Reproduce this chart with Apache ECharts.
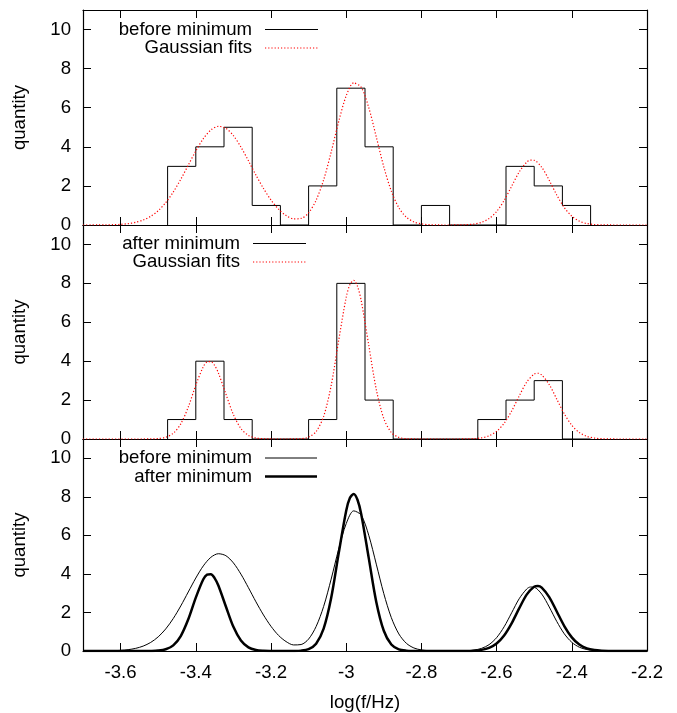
<!DOCTYPE html>
<html><head><meta charset="utf-8">
<script src="https://cdn.jsdelivr.net/npm/echarts@6/dist/echarts.min.js"></script>
<style>html,body{margin:0;padding:0;background:#fff}#c{width:677px;height:713px}</style>
</head><body><div id="c"></div>
<script>
// histogram bin edges (log f/Hz) and counts
const binEdges = [-3.475, -3.4, -3.325, -3.25, -3.175, -3.1, -3.025, -2.95, -2.875, -2.8, -2.725, -2.65, -2.575, -2.5, -2.425, -2.35];
const countsBefore = [3, 4, 5, 1, 0, 2, 7, 4, 0, 1, 0, 0, 3, 2, 1];
const countsAfter  = [1, 4, 1, 0, 0, 1, 8, 2, 0, 0, 0, 1, 2, 3, 0];

// Gaussian fit curves: [log(f/Hz), quantity]
const fitBefore = [[-3.70,0],[-3.66,0.003],[-3.64,0.006],[-3.62,0.015],[-3.60,0.033],[-3.58,0.069],[-3.56,0.137],[-3.54,0.254],[-3.52,0.444],[-3.50,0.734],[-3.48,1.145],[-3.46,1.684],[-3.44,2.338],[-3.42,3.063],[-3.40,3.786],[-3.38,4.416],[-3.36,4.860],[-3.34,5.047],[-3.32,4.945],[-3.30,4.572],[-3.28,3.989],[-3.26,3.284],[-3.24,2.551],[-3.22,1.870],[-3.20,1.280],[-3.18,0.810],[-3.16,0.490],[-3.14,0.315],[-3.12,0.335],[-3.10,0.620],[-3.08,1.270],[-3.06,2.310],[-3.04,3.730],[-3.02,5.289],[-3.00,6.608],[-2.98,7.271],[-2.96,7.043],[-2.94,6.005],[-2.92,4.507],[-2.90,2.977],[-2.88,1.732],[-2.86,0.886],[-2.84,0.399],[-2.82,0.158],[-2.80,0.055],[-2.78,0.017],[-2.76,0.005],[-2.74,0.001],[-2.72,0.001],[-2.70,0.004],[-2.68,0.015],[-2.66,0.049],[-2.64,0.136],[-2.62,0.329],[-2.60,0.691],[-2.58,1.256],[-2.56,1.982],[-2.54,2.711],[-2.52,3.216],[-2.51,3.320],[-2.50,3.309],[-2.48,2.953],[-2.46,2.285],[-2.44,1.534],[-2.42,0.893],[-2.40,0.451],[-2.38,0.197],[-2.36,0.075],[-2.34,0.025],[-2.32,0.007],[-2.30,0.002],[-2.26,0],[-2.20,0]];
const fitAfter = [[-3.70,0],[-3.58,0],[-3.56,0],[-3.54,0.001],[-3.52,0.004],[-3.50,0.021],[-3.48,0.088],[-3.46,0.293],[-3.44,0.778],[-3.42,1.644],[-3.40,2.770],[-3.38,3.720],[-3.37,3.959],[-3.36,3.982],[-3.35,3.784],[-3.34,3.397],[-3.32,2.311],[-3.30,1.253],[-3.28,0.541],[-3.26,0.186],[-3.24,0.051],[-3.22,0.011],[-3.20,0.002],[-3.18,0],[-3.16,0.001],[-3.14,0.003],[-3.12,0.019],[-3.10,0.098],[-3.08,0.381],[-3.06,1.159],[-3.04,2.746],[-3.02,5.067],[-3.00,7.281],[-2.99,7.946],[-2.98,8.150],[-2.97,7.848],[-2.96,7.101],[-2.94,4.820],[-2.92,2.548],[-2.90,1.049],[-2.88,0.336],[-2.86,0.084],[-2.84,0.016],[-2.82,0.002],[-2.80,0],[-2.72,0],[-2.70,0.001],[-2.68,0.005],[-2.66,0.018],[-2.64,0.059],[-2.62,0.163],[-2.60,0.391],[-2.58,0.807],[-2.56,1.437],[-2.54,2.208],[-2.52,2.924],[-2.50,3.340],[-2.49,3.379],[-2.48,3.291],[-2.46,2.797],[-2.44,2.050],[-2.42,1.296],[-2.40,0.707],[-2.38,0.332],[-2.36,0.135],[-2.34,0.047],[-2.32,0.014],[-2.30,0.004],[-2.28,0.001],[-2.26,0],[-2.20,0]];

function outline(counts) {
  const pts = [[binEdges[0], 0]];
  counts.forEach((c, i) => { pts.push([binEdges[i], c]); pts.push([binEdges[i + 1], c]); });
  pts.push([binEdges[binEdges.length - 1], 0]);
  return pts;
}

const FONT = 'Liberation Sans, Arial, sans-serif';
const FS = 18.6;
const AXW = 1.2;
const grids = [
  {left: 83, right: 30, top: 10, height: 215},
  {left: 83, right: 30, top: 225, height: 214},
  {left: 83, right: 30, top: 439, height: 214}
];
const xAxes = [], yAxes = [];
grids.forEach((g, i) => {
  ['bottom', 'top'].forEach(pos => {
    xAxes.push({
      gridIndex: i, type: 'value', position: pos, min: -3.7, max: -2.2,
      minInterval: 0.2, maxInterval: 0.2, splitNumber: 7,
      axisLine: {show: true, onZero: false, lineStyle: {color: '#000', width: AXW}},
      axisTick: {show: true, inside: true, length: 8, lineStyle: {color: '#000', width: 1}},
      axisLabel: {show: (i === 2 && pos === 'bottom'), showMinLabel: false, margin: 12, fontSize: FS, fontFamily: FONT, color: '#000'},
      splitLine: {show: false},
      name: (i === 2 && pos === 'bottom') ? 'log(f/Hz)' : '',
      nameLocation: 'middle', nameGap: 42,
      nameTextStyle: {fontSize: FS, fontFamily: FONT, color: '#000'}
    });
  });
  ['left', 'right'].forEach(pos => {
    yAxes.push({
      gridIndex: i, type: 'value', position: pos, min: 0, max: 11, interval: 2,
      axisLine: {show: true, onZero: false, lineStyle: {color: '#000', width: AXW}},
      axisTick: {show: true, inside: true, length: 8, lineStyle: {color: '#000', width: 1}},
      axisLabel: {show: pos === 'left', showMaxLabel: false, margin: 12, fontSize: FS, fontFamily: FONT, color: '#000'},
      splitLine: {show: false},
      name: pos === 'left' ? 'quantity' : '',
      nameLocation: 'middle', nameGap: 54,
      nameTextStyle: {fontSize: FS, fontFamily: FONT, color: '#000'}
    });
  });
});

const redDot = {color: '#ff0000', width: 1.2, type: [1.2, 2]};
const series = [
  {name: 'before minimum', type: 'line', xAxisIndex: 0, yAxisIndex: 0, data: outline(countsBefore), symbol: 'none', lineStyle: {color: '#000', width: 1}, z: 3},
  {name: 'Gaussian fits', type: 'line', xAxisIndex: 0, yAxisIndex: 0, data: fitBefore, symbol: 'none', smooth: 0.3, lineStyle: redDot, z: 4},
  {name: 'after minimum', type: 'line', xAxisIndex: 2, yAxisIndex: 2, data: outline(countsAfter), symbol: 'none', lineStyle: {color: '#000', width: 1}, z: 3},
  {name: 'Gaussian fits', type: 'line', xAxisIndex: 2, yAxisIndex: 2, data: fitAfter, symbol: 'none', smooth: 0.3, lineStyle: redDot, z: 4},
  {name: 'before minimum', type: 'line', xAxisIndex: 4, yAxisIndex: 4, data: fitBefore, symbol: 'none', smooth: 0.3, lineStyle: {color: '#000', width: 1}, z: 3},
  {name: 'after minimum', type: 'line', xAxisIndex: 4, yAxisIndex: 4, data: fitAfter, symbol: 'none', smooth: 0.3, lineStyle: {color: '#000', width: 2.5}, z: 4}
];

function legendText(t, x, y) {
  return {type: 'text', x: x, y: y, z: 10, style: {text: t, fontSize: FS, fontFamily: FONT, fill: '#000', align: 'right', verticalAlign: 'middle'}};
}
function legendLine(x1, x2, y, st) {
  return {type: 'line', z: 10, shape: {x1: x1, y1: y, x2: x2, y2: y}, style: st};
}
const solid = {stroke: '#000', lineWidth: 1};
const thick = {stroke: '#000', lineWidth: 2.5};
const dotted = {stroke: '#ff0000', lineWidth: 1.2, lineDash: [1.2, 2]};
const graphic = [
  legendText('before minimum', 252, 29.5), legendLine(265, 318, 29.5, solid),
  legendText('Gaussian fits', 252, 48), legendLine(265, 318, 48, dotted),
  legendText('after minimum', 240, 243.5), legendLine(253, 306, 243.5, solid),
  legendText('Gaussian fits', 240, 262), legendLine(253, 306, 262, dotted),
  legendText('before minimum', 252, 458), legendLine(265, 317, 458, solid),
  legendText('after minimum', 252, 476.5), legendLine(265, 317, 476.5, thick)
];

const chart = echarts.init(document.getElementById('c'), null, {renderer: 'canvas'});
chart.setOption({
  animation: false,
  backgroundColor: '#fff',
  grid: grids,
  xAxis: xAxes,
  yAxis: yAxes,
  series: series,
  graphic: graphic
});
</script></body></html>
